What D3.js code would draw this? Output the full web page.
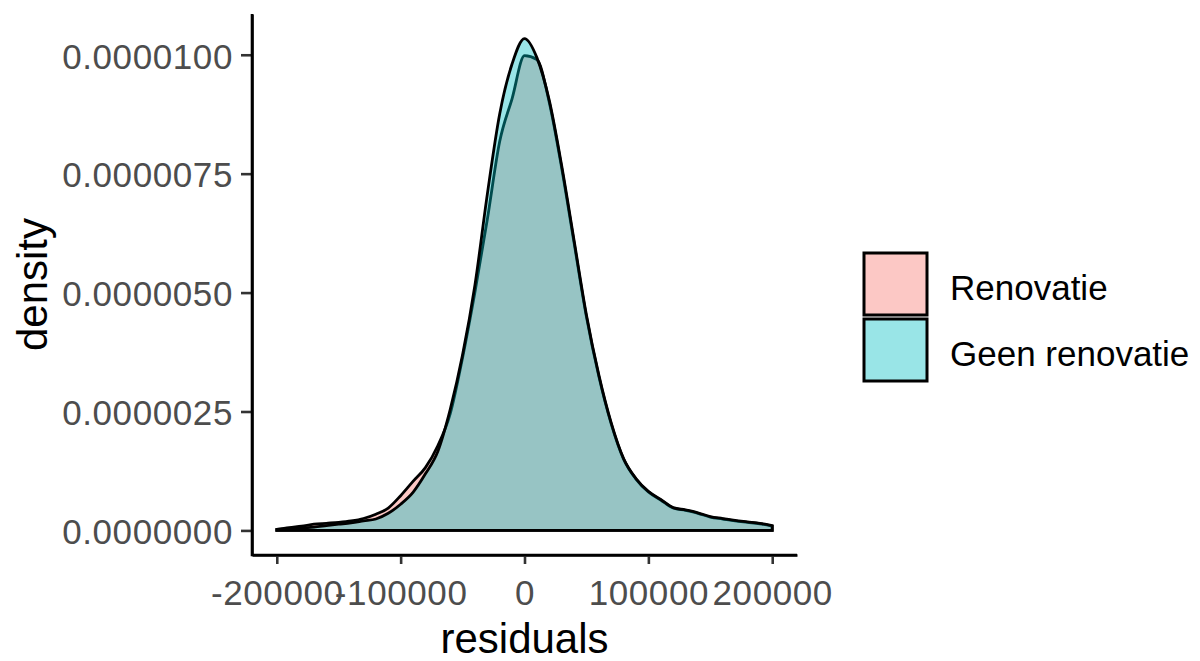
<!DOCTYPE html>
<html>
<head>
<meta charset="utf-8">
<script src="https://cdn.jsdelivr.net/npm/d3@7"></script>
<style>
  html, body { margin: 0; padding: 0; background: #ffffff; }
  svg { display: block; font-family: "Liberation Sans", Arial, sans-serif; }
</style>
</head>
<body>
<svg id="chart" width="1200" height="661"></svg>
<script>
// Residual values (x grid) at which the density estimates are given
const residuals = d3.range(-200000, 200001, 10000);

// Density estimates per group, in units of 1e-6
const renovatie = [
  0.02, 0.06, 0.09, 0.13, 0.15, 0.17, 0.20, 0.25, 0.34, 0.47,
  0.73, 1.03, 1.32, 1.78, 2.45, 3.63, 5.01, 6.54, 8.18, 9.08,
  9.98,
  9.90, 9.00, 7.62, 6.05, 4.49, 3.24, 2.24, 1.50, 1.08, 0.81,
  0.64, 0.47, 0.42, 0.36, 0.28, 0.24, 0.20, 0.17, 0.14, 0.09
];
const geenRenovatie = [
  0.02, 0.04, 0.05, 0.07, 0.10, 0.13, 0.16, 0.20, 0.24, 0.36,
  0.55, 0.80, 1.19, 1.66, 2.54, 3.69, 5.16, 7.07, 8.76, 9.81,
  10.34,
  9.94, 9.04, 7.67, 6.10, 4.53, 3.27, 2.26, 1.51, 1.09, 0.82,
  0.65, 0.48, 0.43, 0.37, 0.29, 0.25, 0.21, 0.18, 0.15, 0.10
];
const unit = 1e-6;

const groupNames = ["Renovatie", "Geen renovatie"];
const groupColors = ["#F8766D", "#00BFC4"];
const yTickValues = [0, 0.0000025, 0.000005, 0.0000075, 0.00001];
const xTickValues = [-200000, -100000, 0, 100000, 200000];

const series = [renovatie, geenRenovatie].map((vals, i) => ({
  name: groupNames[i],
  color: groupColors[i],
  points: residuals.map((r, j) => ({ x: r, y: vals[j] * unit }))
}));

// Panel geometry
const panel = { left: 252, right: 797, top: 14, bottom: 555 };

// Scales with 5% padding on each side of the data range
const xExt = d3.extent(residuals);
const xPad = (xExt[1] - xExt[0]) * 0.05;
const x = d3.scaleLinear()
  .domain([xExt[0] - xPad, xExt[1] + xPad])
  .range([panel.left, panel.right]);

const yMax = d3.max(series, s => d3.max(s.points, p => p.y));
const yPad = yMax * 0.05;
const y = d3.scaleLinear()
  .domain([-yPad, yMax + yPad])
  .range([panel.bottom, panel.top]);

const svg = d3.select("#chart");

// Density areas, outlined as closed polygons
const area = d3.area()
  .x(d => x(d.x))
  .y0(y(0))
  .y1(d => y(d.y))
  .curve(d3.curveMonotoneX);

svg.append("g")
  .selectAll("path")
  .data(series)
  .join("path")
  .attr("d", d => area(d.points) + "Z")
  .attr("fill", d => d.color)
  .attr("fill-opacity", 0.4)
  .attr("stroke", "#000000")
  .attr("stroke-width", 2.8)
  .attr("stroke-linejoin", "miter");

// Axes
const tickFont = 35;
const yAxis = d3.axisLeft(y)
  .tickValues(yTickValues)
  .tickFormat(d => d.toFixed(7))
  .tickSize(11)
  .tickSizeOuter(0)
  .tickPadding(8);

const xAxis = d3.axisBottom(x)
  .tickValues(xTickValues)
  .tickFormat(d => String(d))
  .tickSize(9)
  .tickSizeOuter(0)
  .tickPadding(16);

const gy = svg.append("g")
  .attr("transform", `translate(${panel.left},0)`)
  .call(yAxis);
const gx = svg.append("g")
  .attr("transform", `translate(0,${panel.bottom})`)
  .call(xAxis);

[gx, gy].forEach(g => {
  g.select(".domain").attr("stroke", "#000000").attr("stroke-width", 2.6);
  g.selectAll(".tick line").attr("stroke", "#333333").attr("stroke-width", 2.6);
  g.selectAll(".tick text")
    .attr("fill", "#4D4D4D")
    .style("font-size", tickFont + "px")
    .style("letter-spacing", "0.6px")
    .style("font-family", "'Liberation Sans', Arial, sans-serif");
});
gy.selectAll(".tick text").attr("dy", "0.38em");
gx.selectAll(".tick text").attr("dy", "0.71em");

// Joined corner of the two axis lines
svg.append("path")
  .attr("d", `M${panel.left},${panel.top}V${panel.bottom}H${panel.right}`)
  .attr("fill", "none")
  .attr("stroke", "#000000")
  .attr("stroke-width", 2.6);

// Axis titles
svg.append("text")
  .attr("x", (panel.left + panel.right) / 2)
  .attr("y", 653)
  .attr("text-anchor", "middle")
  .attr("fill", "#000000")
  .style("font-size", "42px")
  .text("residuals");

svg.append("text")
  .attr("transform", `translate(47,${(panel.top + panel.bottom) / 2}) rotate(-90)`)
  .attr("text-anchor", "middle")
  .attr("fill", "#000000")
  .style("font-size", "42px")
  .text("density");

// Legend
const legend = svg.append("g").attr("transform", "translate(864,253)");
const keyW = 63, keyH = 62, keyGap = 4;
const items = legend.selectAll("g")
  .data(series)
  .join("g")
  .attr("transform", (d, i) => `translate(0,${i * (keyH + keyGap)})`);

items.append("rect")
  .attr("width", keyW)
  .attr("height", keyH)
  .attr("fill", d => d.color)
  .attr("fill-opacity", 0.4)
  .attr("stroke", "#000000")
  .attr("stroke-width", 3);

items.append("text")
  .attr("x", 86)
  .attr("y", keyH / 2)
  .attr("dy", "0.47em")
  .attr("fill", "#000000")
  .style("font-size", tickFont + "px")
  .text(d => d.name);
</script>
</body>
</html>
